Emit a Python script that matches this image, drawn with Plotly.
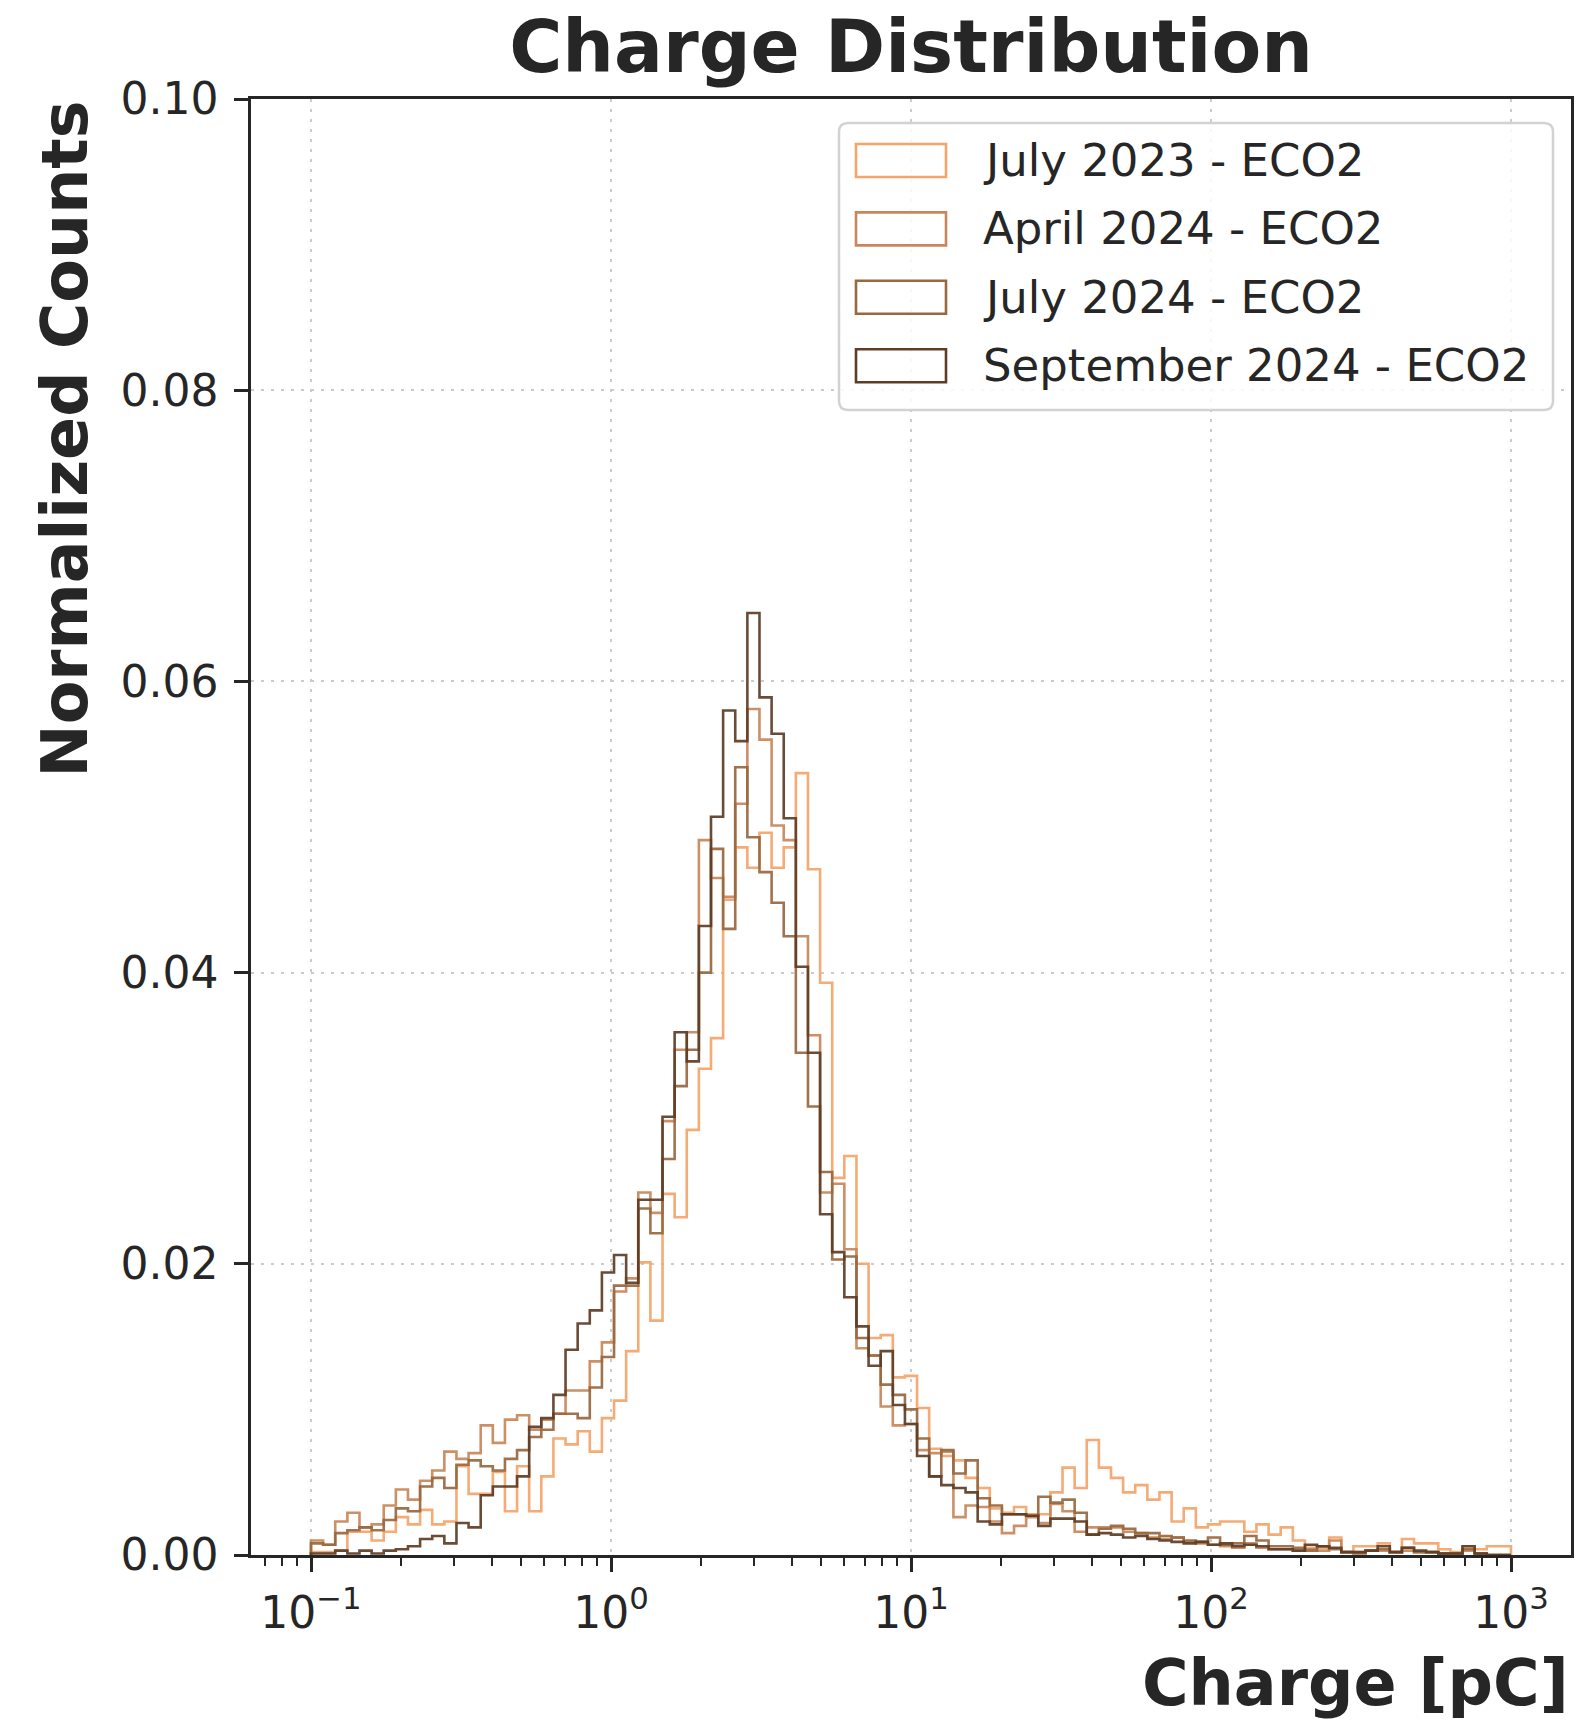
import numpy as np
import plotly.graph_objects as go

# ---------------- data ----------------
# 99 log-spaced bins between 0.1 pC and 1000 pC
bin_edges = np.logspace(-1, 3, 100)

series_names = ["July 2023 - ECO2", "April 2024 - ECO2", "July 2024 - ECO2", "September 2024 - ECO2"]
series_colors = ["#F5A46A", "#C8875A", "#99683F", "#5E3D26"]

july_2023 = [
    0.0002, 0.0002, 0.0003, 0.0016, 0.0016, 0.0010, 0.0016, 0.0026, 0.0021, 0.0031,
    0.0021, 0.0023, 0.0061, 0.0042, 0.0042, 0.0057, 0.0030, 0.0061, 0.0030, 0.0054,
    0.0080, 0.0076, 0.0085, 0.0071, 0.0094, 0.0106, 0.0140, 0.0201, 0.0161, 0.0248,
    0.0232, 0.0292, 0.0334, 0.0355, 0.0450, 0.0486, 0.0472, 0.0496, 0.0472, 0.0486,
    0.0537, 0.0471, 0.0393, 0.0259, 0.0274, 0.0200, 0.0149, 0.0151, 0.0122, 0.0123,
    0.0101, 0.0073, 0.0068, 0.0065, 0.0053, 0.0046, 0.0032, 0.0029, 0.0033, 0.0028,
    0.0028, 0.0043, 0.0060, 0.0046, 0.0079, 0.0060, 0.0053, 0.0043, 0.0048, 0.0038,
    0.0043, 0.0023, 0.0032, 0.0019, 0.0021, 0.0023, 0.0023, 0.0016, 0.0021, 0.0014,
    0.0019, 0.0010, 0.0005, 0.0005, 0.0012, 0.0002, 0.0006, 0.0006, 0.0008, 0.0002,
    0.0011, 0.0008, 0.0008, 0.0004, 0.0002, 0.0006, 0.0004, 0.0006, 0.0006,
]

april_2024 = [
    0.0010, 0.0007, 0.0023, 0.0029, 0.0019, 0.0021, 0.0034, 0.0045, 0.0038, 0.0051,
    0.0058, 0.0071, 0.0066, 0.0070, 0.0089, 0.0077, 0.0093, 0.0096, 0.0086, 0.0093,
    0.0097, 0.0113, 0.0113, 0.0133, 0.0146, 0.0181, 0.0190, 0.0249, 0.0235, 0.0298,
    0.0347, 0.0359, 0.0491, 0.0465, 0.0452, 0.0516, 0.0581, 0.0560, 0.0501, 0.0491,
    0.0425, 0.0357, 0.0249, 0.0255, 0.0210, 0.0142, 0.0137, 0.0102, 0.0089, 0.0090,
    0.0072, 0.0070, 0.0071, 0.0026, 0.0034, 0.0033, 0.0023, 0.0015, 0.0020, 0.0026,
    0.0022, 0.0035, 0.0030, 0.0016, 0.0019, 0.0019, 0.0019, 0.0016, 0.0015, 0.0012,
    0.0011, 0.0012, 0.0009, 0.0008, 0.0007, 0.0006, 0.0005, 0.0008, 0.0005, 0.0004,
    0.0004, 0.0003, 0.0004, 0.0003, 0.0010, 0.0002, 0.0002, 0.0003, 0.0003, 0.0002,
    0.0003, 0.0002, 0.0002, 0.0001, 0.0001, 0.0003, 0.0001, 0.0000, 0.0000,
]

july_2024 = [
    0.0008, 0.0007, 0.0015, 0.0017, 0.0019, 0.0017, 0.0024, 0.0032, 0.0030, 0.0047,
    0.0053, 0.0046, 0.0062, 0.0065, 0.0061, 0.0058, 0.0066, 0.0072, 0.0081, 0.0086,
    0.0097, 0.0097, 0.0094, 0.0115, 0.0136, 0.0185, 0.0185, 0.0238, 0.0221, 0.0272,
    0.0322, 0.0347, 0.0400, 0.0485, 0.0430, 0.0541, 0.0493, 0.0469, 0.0448, 0.0425,
    0.0345, 0.0308, 0.0263, 0.0203, 0.0205, 0.0149, 0.0137, 0.0117, 0.0110, 0.0100,
    0.0080, 0.0054, 0.0072, 0.0056, 0.0065, 0.0039, 0.0034, 0.0028, 0.0028, 0.0027,
    0.0040, 0.0036, 0.0038, 0.0029, 0.0014, 0.0018, 0.0020, 0.0018, 0.0015, 0.0015,
    0.0013, 0.0012, 0.0010, 0.0009, 0.0012, 0.0007, 0.0008, 0.0013, 0.0010, 0.0006,
    0.0006, 0.0005, 0.0003, 0.0006, 0.0004, 0.0002, 0.0001, 0.0003, 0.0004, 0.0002,
    0.0005, 0.0002, 0.0002, 0.0001, 0.0001, 0.0004, 0.0001, 0.0000, 0.0000,
]

september_2024 = [
    0.0001, 0.0001, 0.0003, 0.0001, 0.0003, 0.0001, 0.0003, 0.0004, 0.0006, 0.0011,
    0.0013, 0.0008, 0.0022, 0.0019, 0.0041, 0.0047, 0.0047, 0.0054, 0.0088, 0.0094,
    0.0110, 0.0141, 0.0159, 0.0168, 0.0194, 0.0206, 0.0187, 0.0244, 0.0244, 0.0301,
    0.0359, 0.0339, 0.0432, 0.0507, 0.0580, 0.0559, 0.0647, 0.0589, 0.0564, 0.0506,
    0.0404, 0.0345, 0.0234, 0.0208, 0.0177, 0.0157, 0.0130, 0.0140, 0.0103, 0.0090,
    0.0068, 0.0054, 0.0048, 0.0046, 0.0043, 0.0023, 0.0021, 0.0028, 0.0028, 0.0027,
    0.0020, 0.0025, 0.0025, 0.0023, 0.0014, 0.0015, 0.0014, 0.0012, 0.0013, 0.0011,
    0.0010, 0.0009, 0.0008, 0.0009, 0.0007, 0.0008, 0.0006, 0.0007, 0.0006, 0.0004,
    0.0004, 0.0003, 0.0007, 0.0006, 0.0005, 0.0002, 0.0002, 0.0003, 0.0006, 0.0002,
    0.0005, 0.0003, 0.0002, 0.0001, 0.0001, 0.0006, 0.0001, 0.0000, 0.0000,
]

series_values = [july_2023, april_2024, july_2024, september_2024]

x_tick_vals = [0.1, 1, 10, 100, 1000]
x_tick_text = ["10<sup>\u22121</sup>", "10<sup>0</sup>", "10<sup>1</sup>", "10<sup>2</sup>", "10<sup>3</sup>"]
y_tick_vals = [0.0, 0.02, 0.04, 0.06, 0.08, 0.10]

# ---------------- figure ----------------
W, H = 1579, 1721
ML, MR, MT, MB = 251, 8, 99, 166
PW, PH = W - ML - MR, H - MT - MB
TXT = "#262626"
FONT = "DejaVu Sans"

fig = go.Figure()
for name, color, vals in zip(series_names, series_colors, series_values):
    v = np.asarray(vals, dtype=float)
    xs = np.concatenate([[bin_edges[0]], bin_edges[:-1], [bin_edges[-1]]])
    ys = np.concatenate([[0.0], v, [0.0]])
    fig.add_trace(go.Scatter(
        x=xs, y=ys, mode="lines", name=name,
        line=dict(color=color, width=2.6, shape="hv"),
        opacity=0.92, showlegend=False, hoverinfo="skip",
    ))

# minor tick positions on log axis (2..9 x 10^n)
minor_vals = [k * 10.0 ** n for n in range(-2, 4) for k in range(2, 10)
              if 10 ** -1.2 <= k * 10.0 ** n <= 10 ** 3.2]

grid_common = dict(showgrid=True, gridcolor="#cbcbcb", gridwidth=2.3, griddash="3px,7px")

fig.update_layout(
    width=W, height=H,
    margin=dict(l=ML, r=MR, t=MT, b=MB, autoexpand=False),
    paper_bgcolor="white", plot_bgcolor="white",
    font=dict(family=FONT, color=TXT),
    showlegend=False,
    title=dict(text="Charge Distribution", x=0.5, xref="paper", xanchor="center",
               y=1 - 47 / H, yref="container", yanchor="middle",
               font=dict(size=72.5, family=FONT, color=TXT, weight="bold")),
    xaxis=dict(type="log", range=[-1.2, 3.2], tickmode="array",
               tickvals=x_tick_vals, ticktext=x_tick_text,
               ticks="outside", ticklen=14, tickwidth=2.5, tickcolor=TXT,
               ticklabelstandoff=3,
               showline=True, linewidth=2.5, linecolor=TXT, mirror=True,
               zeroline=False, tickfont=dict(size=44, color=TXT, family=FONT),
               minor=dict(tickmode="array", tickvals=minor_vals, ticks="outside",
                          ticklen=8, tickwidth=2, tickcolor=TXT, showgrid=False),
               **grid_common),
    yaxis=dict(range=[0, 0.1], tickmode="array", tickvals=y_tick_vals, tickformat=".2f",
               ticks="outside", ticklen=14, tickwidth=2.5, tickcolor=TXT,
               ticklabelstandoff=7,
               showline=True, linewidth=2.5, linecolor=TXT, mirror=True,
               zeroline=False, tickfont=dict(size=44, color=TXT, family=FONT),
               **grid_common),
)

def px_to_paper_x(px):
    return (px - ML) / PW

def px_to_paper_y(py):
    return (H - MB - py) / PH

annotations = []
shapes = []

# axis labels (placed like matplotlib loc='top' / loc='right')
annotations.append(dict(text="<b>Normalized Counts</b>", xref="paper", yref="paper",
                        x=px_to_paper_x(64), y=1.0, xanchor="center", yanchor="top",
                        textangle=-90, showarrow=False,
                        font=dict(size=63.5, family=FONT, color=TXT)))
annotations.append(dict(text="<b>Charge [pC]</b>", xref="paper", yref="paper",
                        x=1.0, y=px_to_paper_y(1683), xanchor="right", yanchor="middle",
                        showarrow=False, font=dict(size=63.5, family=FONT, color=TXT)))

# legend frame (rounded box)
bx0, bx1 = px_to_paper_x(839), px_to_paper_x(1553)
by0, by1 = px_to_paper_y(410), px_to_paper_y(123)
rx, ry = 9 / PW, 9 / PH
path = (f"M {bx0+rx},{by0} L {bx1-rx},{by0} Q {bx1},{by0} {bx1},{by0+ry} "
        f"L {bx1},{by1-ry} Q {bx1},{by1} {bx1-rx},{by1} L {bx0+rx},{by1} "
        f"Q {bx0},{by1} {bx0},{by1-ry} L {bx0},{by0+ry} Q {bx0},{by0} {bx0+rx},{by0} Z")
shapes.append(dict(type="path", xref="paper", yref="paper", path=path,
                   line=dict(color="#d2d2d2", width=2.5), fillcolor="rgba(255,255,255,0.85)",
                   layer="above"))

row0, pitch = 160.5, 68.4
for i, (name, color) in enumerate(zip(series_names, series_colors)):
    cy = row0 + i * pitch
    shapes.append(dict(type="rect", xref="paper", yref="paper",
                       x0=px_to_paper_x(856), x1=px_to_paper_x(946),
                       y0=px_to_paper_y(cy + 16.5), y1=px_to_paper_y(cy - 16.5),
                       line=dict(color=color, width=2.6), fillcolor="rgba(0,0,0,0)",
                       layer="above"))
    annotations.append(dict(text=name, xref="paper", yref="paper",
                            x=px_to_paper_x(981), y=px_to_paper_y(cy),
                            xanchor="left", yanchor="middle", showarrow=False,
                            font=dict(size=45, family=FONT, color=TXT)))

fig.update_layout(annotations=annotations, shapes=shapes)

fig.write_html("out.html",
               config={"displayModeBar": False},
               post_script="document.body.style.margin='0px'; document.body.style.padding='0px';")
